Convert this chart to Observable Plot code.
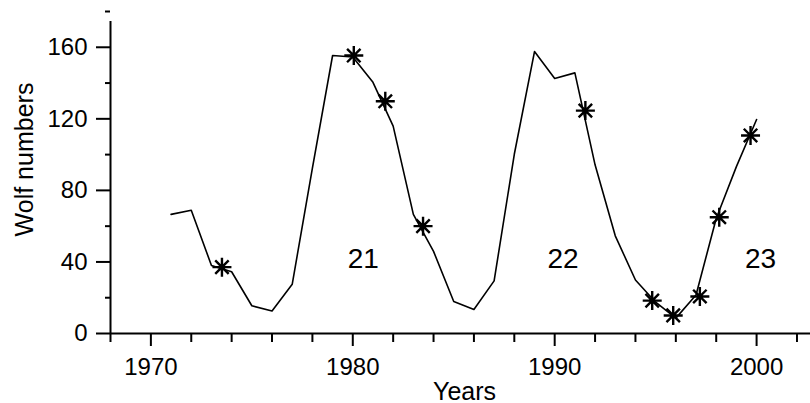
<!DOCTYPE html>
<html>
<head>
<meta charset="utf-8">
<script src="https://cdn.jsdelivr.net/npm/d3@7"></script>
<script src="https://cdn.jsdelivr.net/npm/@observablehq/plot@0.6"></script>
<style>
  html, body { margin: 0; padding: 0; background: white; }
</style>
</head>
<body>
<div id="chart"></div>
<script>
// Yearly Wolf numbers
const years = [1971,1972,1973,1974,1975,1976,1977,1978,1979,1980,1981,1982,1983,1984,1985,1986,1987,1988,1989,1990,1991,1992,1993,1994,1995,1996,1997,1998,1999,2000];
const wolf  = [66.6,68.9,38.0,34.5,15.5,12.6,27.5,92.5,155.4,154.6,140.4,115.9,66.6,45.9,17.9,13.4,29.4,100.2,157.6,142.6,145.7,94.3,54.6,29.9,17.5,8.6,21.5,64.3,93.3,119.6];

// Asterisk markers
const starYears  = [1973.52,1980.05,1981.61,1983.48,1991.52,1994.83,1995.87,1997.19,1998.15,1999.70];
const starValues = [37.1,155.4,129.8,60.0,124.6,18.4,10.1,20.7,65.0,110.7];

// Cycle labels
const cycleNames  = ["21","22","23"];
const cycleYears  = [1980.52,1990.41,2000.2];
const cycleValues = [41.4,41.4,41.4];

// Axis ticks
const xMajor = [1970,1980,1990,2000];
const xMinor = [1968,1972,1974,1976,1978,1982,1984,1986,1988,1992,1994,1996,1998,2002];
const yMajor = [0,40,80,120,160];
const yMinor = [20,60,100,140,180];

const line = years.map((y,i) => ({year: y, value: wolf[i]}));
const stars = starYears.map((y,i) => ({year: y, value: starValues[i]}));
const cycles = cycleNames.map((n,i) => ({name: n, year: cycleYears[i], value: cycleValues[i]}));

const asterisk8 = {
  draw(ctx, size) {
    const r = Math.sqrt(size / Math.PI);
    for (let i = 0; i < 4; i++) {
      const a = i * Math.PI / 4;
      const dx = r * Math.cos(a), dy = r * Math.sin(a);
      ctx.moveTo(-dx, -dy);
      ctx.lineTo(dx, dy);
    }
  }
};

const chart = Plot.plot({
  width: 810,
  height: 403,
  marginLeft: 110,
  marginRight: 0,
  marginTop: 11,
  marginBottom: 70,
  style: {fontFamily: "'Liberation Sans', Arial, sans-serif", background: "white", color: "black"},
  x: {domain: [1968, 2002.67]},
  y: {domain: [0, 180]},
  marks: [
    Plot.axisX(xMajor, {tickSize: 13, tickPadding: 11, fontSize: 24, strokeWidth: 2, tickFormat: d => String(d), label: null}),
    Plot.axisX(xMinor, {tickSize: 9, text: null, strokeWidth: 2, label: null}),
    Plot.axisY(yMajor, {tickSize: 14, tickPadding: 9, fontSize: 24, strokeWidth: 2, label: null}),
    Plot.axisY(yMinor, {tickSize: 5, text: null, strokeWidth: 2, label: null}),
    Plot.ruleY([0], {strokeWidth: 2}),
    Plot.ruleX([1968], {y1: 0, y2: 180, insetBottom: -10, strokeWidth: 2}),
    Plot.line(line, {x: "year", y: "value", stroke: "black", strokeWidth: 1.6}),
    Plot.dot(stars, {x: "year", y: "value", symbol: asterisk8, r: 9.5, stroke: "black", strokeWidth: 2.4, fill: "none"}),
    Plot.text(cycles, {x: "year", y: "value", text: "name", fontSize: 28, textAnchor: "middle", lineAnchor: "middle", fill: "black"}),
    Plot.text(["Wolf numbers"], {frameAnchor: "left", dx: -86, dy: -13, rotate: -90, fontSize: 25, textAnchor: "middle", lineAnchor: "middle", fill: "black"}),
    Plot.text(["Years"], {frameAnchor: "bottom", dx: 4, dy: 58, fontSize: 25, textAnchor: "middle", lineAnchor: "middle", fill: "black"})
  ]
});
document.getElementById("chart").appendChild(chart);
</script>
</body>
</html>
